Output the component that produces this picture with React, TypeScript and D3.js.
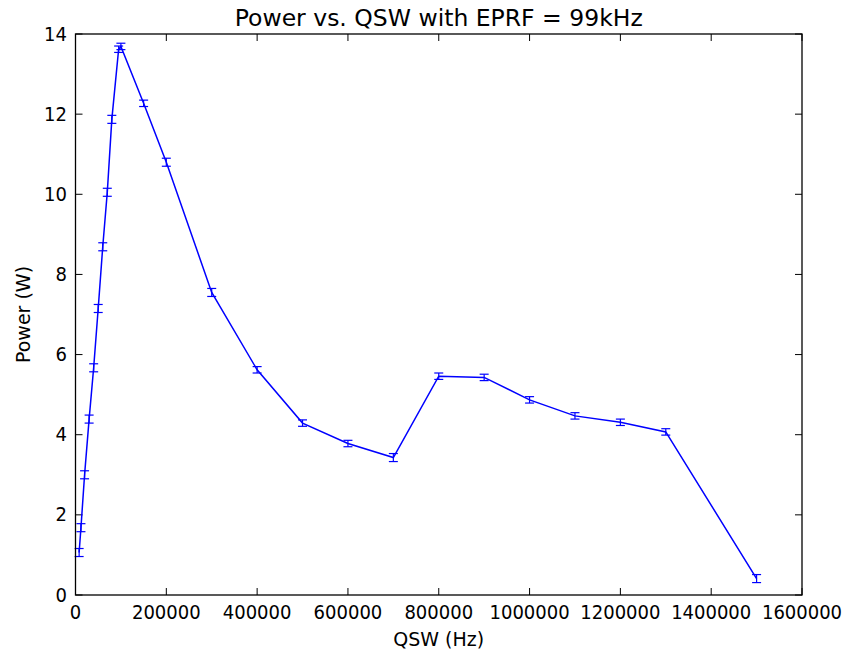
import { useEffect, useRef } from 'react'
import * as d3 from 'd3'

// QSW frequency (Hz) and measured power (W) with error bars
const qsw = [8000, 12000, 20000, 30000, 40000, 50000, 60000, 70000, 80000, 95000, 100000, 150000, 200000, 300000, 400000, 500000, 600000, 700000, 800000, 900000, 1000000, 1100000, 1200000, 1300000, 1500000]
const power = [1.06, 1.68, 3.0, 4.39, 5.67, 7.15, 8.69, 10.05, 11.87, 13.62, 13.69, 12.27, 10.8, 7.55, 5.62, 4.29, 3.78, 3.43, 5.46, 5.43, 4.87, 4.47, 4.31, 4.07, 0.41]
const powerErr = [0.1, 0.1, 0.1, 0.1, 0.1, 0.1, 0.1, 0.1, 0.1, 0.08, 0.08, 0.08, 0.1, 0.1, 0.08, 0.08, 0.08, 0.1, 0.08, 0.08, 0.08, 0.08, 0.08, 0.08, 0.1]

const xTicks = [0, 200000, 400000, 600000, 800000, 1000000, 1200000, 1400000, 1600000]
const yTicks = [0, 2, 4, 6, 8, 10, 12, 14]

const W = 847
const H = 653

export default function App() {
  const svgRef = useRef<SVGSVGElement>(null)

  useEffect(() => {
    document.body.style.margin = '0'
    if (!svgRef.current) return
    const svg = d3.select(svgRef.current)
    svg.selectAll('*').remove()

    const margin = { top: 34, right: 45, bottom: 58, left: 75.5 }
    const w = W - margin.left - margin.right
    const h = H - margin.top - margin.bottom

    const g = svg.append('g').attr('transform', `translate(${margin.left},${margin.top})`)

    const x = d3.scaleLinear().domain([0, 1600000]).range([0, w])
    const y = d3.scaleLinear().domain([0, 14]).range([h, 0])

    const tickFont = 'DejaVu Sans Condensed, DejaVu Sans, sans-serif'
    const labelFont = 'DejaVu Sans, sans-serif'
    const tickLen = 7

    // Ticks pointing inward on all four sides
    xTicks.forEach((t) => {
      const px = x(t)
      g.append('line').attr('x1', px).attr('x2', px).attr('y1', h).attr('y2', h - tickLen).attr('stroke', '#000').attr('stroke-width', 1)
      g.append('line').attr('x1', px).attr('x2', px).attr('y1', 0).attr('y2', tickLen).attr('stroke', '#000').attr('stroke-width', 1)
      g.append('text')
        .attr('x', px)
        .attr('y', h + 24)
        .attr('text-anchor', 'middle')
        .attr('font-family', tickFont)
        .attr('font-size', '20px')
        .attr('fill', '#000')
        .text(`${t}`)
    })
    yTicks.forEach((t) => {
      const py = y(t)
      g.append('line').attr('x1', 0).attr('x2', tickLen).attr('y1', py).attr('y2', py).attr('stroke', '#000').attr('stroke-width', 1)
      g.append('line').attr('x1', w).attr('x2', w - tickLen).attr('y1', py).attr('y2', py).attr('stroke', '#000').attr('stroke-width', 1)
      g.append('text')
        .attr('x', -8.5)
        .attr('y', py + 6.5)
        .attr('text-anchor', 'end')
        .attr('font-family', tickFont)
        .attr('font-size', '20px')
        .attr('fill', '#000')
        .text(`${t}`)
    })

    const pts = qsw.map((q, i) => ({ q, p: power[i], e: powerErr[i] }))

    // Error bars
    const cap = 4.5
    pts.forEach((d) => {
      const px = x(d.q)
      const y0 = y(d.p - d.e)
      const y1 = y(d.p + d.e)
      g.append('line').attr('x1', px).attr('x2', px).attr('y1', y0).attr('y2', y1).attr('stroke', '#0000ff').attr('stroke-width', 1.2)
      g.append('line').attr('x1', px - cap).attr('x2', px + cap).attr('y1', y0).attr('y2', y0).attr('stroke', '#0000ff').attr('stroke-width', 1.2)
      g.append('line').attr('x1', px - cap).attr('x2', px + cap).attr('y1', y1).attr('y2', y1).attr('stroke', '#0000ff').attr('stroke-width', 1.2)
    })

    const line = d3
      .line<{ q: number; p: number }>()
      .x((d) => x(d.q))
      .y((d) => y(d.p))

    g.append('path')
      .datum(pts)
      .attr('fill', 'none')
      .attr('stroke', '#0000ff')
      .attr('stroke-width', 1.5)
      .attr('d', line)

    // Frame
    g.append('rect')
      .attr('x', 0)
      .attr('y', 0)
      .attr('width', w)
      .attr('height', h)
      .attr('fill', 'none')
      .attr('stroke', '#000')
      .attr('stroke-width', 1.3)

    // Title and labels
    svg.append('text')
      .attr('x', margin.left + w / 2)
      .attr('y', 26)
      .attr('text-anchor', 'middle')
      .attr('font-family', labelFont)
      .attr('font-size', '23.5px')
      .attr('fill', '#000')
      .text('Power vs. QSW with EPRF = 99kHz')

    svg.append('text')
      .attr('x', margin.left + w / 2)
      .attr('y', 646)
      .attr('text-anchor', 'middle')
      .attr('font-family', labelFont)
      .attr('font-size', '19px')
      .attr('fill', '#000')
      .text('QSW (Hz)')

    svg.append('text')
      .attr('transform', `translate(30,${margin.top + h / 2}) rotate(-90)`)
      .attr('text-anchor', 'middle')
      .attr('font-family', labelFont)
      .attr('font-size', '19px')
      .attr('fill', '#000')
      .text('Power (W)')
  }, [])

  return <svg ref={svgRef} width={W} height={H} style={{ display: 'block', background: '#fff' }} />
}
